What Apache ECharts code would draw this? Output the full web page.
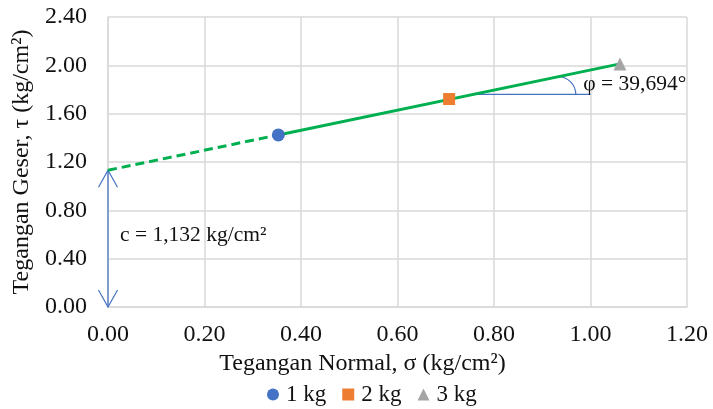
<!DOCTYPE html>
<html><head><meta charset="utf-8">
<script src="https://cdn.jsdelivr.net/npm/echarts@6/dist/echarts.min.js"></script>
<style>html,body{margin:0;padding:0;background:#fff}#c{width:713px;height:409px}</style>
</head><body><div id="c"></div>
<script>
// Data
var seriesNames = ['1 kg', '2 kg', '3 kg'];
var sigma = [0.353, 0.707, 1.061];          // normal stress (kg/cm2)
var tau = [1.424, 1.721, 2.012];            // shear stress (kg/cm2)
var dashedX = [0, 0.353];
var dashedY = [1.132, 1.424];
var solidX = [0.353, 1.061];
var solidY = [1.424, 2.012];
var cohesion = 1.132;
var phiText = 'φ = 39,694°';
var cText = 'c = 1,132 kg/cm²';
var xTicks = [0, 0.2, 0.4, 0.6, 0.8, 1.0, 1.2];
var yTicks = [0, 0.4, 0.8, 1.2, 1.6, 2.0, 2.4];

var FONT = "'Liberation Serif','Times New Roman',serif";
var TXT = '#111';
var BLUE = '#4472C4', ORANGE = '#ED7D31', GRAY = '#A5A5A5', GREEN = '#00B050';
var colors = [BLUE, ORANGE, GRAY];
var symbols = ['circle', 'rect', 'triangle'];
var sizes = [13, 12, 13];

function pairs(xs, ys) { return xs.map(function (x, i) { return [x, ys[i]]; }); }

var series = [];
series.push({
  type: 'line', name: 'fitDash', data: pairs(dashedX, dashedY), showSymbol: false, silent: true,
  lineStyle: { color: GREEN, width: 3, type: [9, 5] }, z: 3
});
series.push({
  type: 'line', name: 'fit', data: pairs(solidX, solidY), showSymbol: false, silent: true,
  lineStyle: { color: GREEN, width: 3 }, z: 3
});

// annotation layer (positions in data units, converted through the axes)
var hY = 1.76, hXEnd = 1.0, arcX = 0.933;
var slope = (solidY[1] - solidY[0]) / (solidX[1] - solidX[0]);
series.push({
  type: 'custom', name: 'annot', silent: true, z: 2, clip: false,
  data: [[0, 0]],
  renderItem: function (params, api) {
    var top = api.coord([0, cohesion]);
    var bot = api.coord([0, 0]);
    var hx0 = solidX[0] + (hY - solidY[0]) / slope;
    var h0 = api.coord([hx0, hY]);
    var h1 = api.coord([hXEnd, hY]);
    var ac = api.coord([arcX, hY]);
    var atop = api.coord([arcX, solidY[0] + slope * (arcX - solidX[0])]);
    var r = ac[1] - atop[1];
    var ls = { stroke: BLUE, lineWidth: 1.2, fill: null };
    var tpos = api.coord([0.985, hY]);
    var cpos = api.coord([0.025, 0.59]);
    return {
      type: 'group',
      children: [
        { type: 'line', shape: { x1: top[0], y1: top[1], x2: bot[0], y2: bot[1] }, style: ls },
        { type: 'polyline', shape: { points: [[top[0] - 9.5, top[1] + 17], top, [top[0] + 9.5, top[1] + 17]] }, style: ls },
        { type: 'polyline', shape: { points: [[bot[0] - 9.5, bot[1] - 17], bot, [bot[0] + 9.5, bot[1] - 17]] }, style: ls },
        { type: 'line', shape: { x1: h0[0], y1: h0[1], x2: h1[0], y2: h1[1] }, style: ls },
        { type: 'arc', shape: { cx: ac[0], cy: ac[1], r: r, startAngle: -Math.PI / 2, endAngle: 0, clockwise: true }, style: ls },
        { type: 'text', x: tpos[0], y: tpos[1] - 10, style: { text: phiText, fill: TXT, font: '21.5px ' + FONT, textAlign: 'left', textVerticalAlign: 'middle' } },
        { type: 'text', x: cpos[0], y: cpos[1], style: { text: cText, fill: TXT, font: '21.5px ' + FONT, textAlign: 'left', textVerticalAlign: 'middle' } }
      ]
    };
  }
});

seriesNames.forEach(function (n, i) {
  series.push({
    type: 'scatter', name: n, data: [[sigma[i], tau[i]]], symbol: symbols[i], symbolSize: sizes[i],
    itemStyle: { color: colors[i], opacity: 1 }, z: 5
  });
});

var chart = echarts.init(document.getElementById('c'), null, { renderer: 'canvas' });
chart.setOption({
  animation: false,
  backgroundColor: '#fff',
  grid: { left: 108, right: 26, top: 17, bottom: 102, containLabel: false },
  xAxis: {
    type: 'value', min: xTicks[0], max: xTicks[xTicks.length - 1], interval: 0.2,
    name: 'Tegangan Normal, σ (kg/cm²)', nameLocation: 'middle', nameGap: 45,
    nameTextStyle: { fontFamily: FONT, fontSize: 24, color: TXT, padding: [0, 70, 0, 0] },
    axisLine: { show: true, lineStyle: { color: '#d9d9d9', width: 1.5 } },
    axisTick: { show: false },
    splitLine: { show: true, lineStyle: { color: '#d9d9d9', width: 1.5 } },
    axisLabel: { fontFamily: FONT, fontSize: 24, color: TXT, margin: 16, formatter: function (v) { return v.toFixed(2); } }
  },
  yAxis: {
    type: 'value', min: yTicks[0], max: yTicks[yTicks.length - 1], interval: 0.4,
    name: 'Tegangan Geser, τ (kg/cm²)', nameLocation: 'middle', nameGap: 70,
    nameTextStyle: { fontFamily: FONT, fontSize: 24, color: TXT },
    axisLine: { show: true, lineStyle: { color: '#d9d9d9', width: 1.5 } },
    axisTick: { show: false },
    splitLine: { show: true, lineStyle: { color: '#d9d9d9', width: 1.5 } },
    axisLabel: { fontFamily: FONT, fontSize: 24, color: TXT, margin: 21, formatter: function (v) { return v.toFixed(2); } }
  },
  legend: {
    data: seriesNames.map(function (n, i) { return { name: n, icon: symbols[i] }; }),
    top: 381, left: 262, padding: [2, 5, 2, 5], itemWidth: 12, itemHeight: 12, itemGap: 16,
    itemStyle: { opacity: 1 },
    textStyle: { fontFamily: FONT, fontSize: 23, color: TXT, padding: [0, 0, 0, 2] }
  },
  series: series
});
</script></body></html>
